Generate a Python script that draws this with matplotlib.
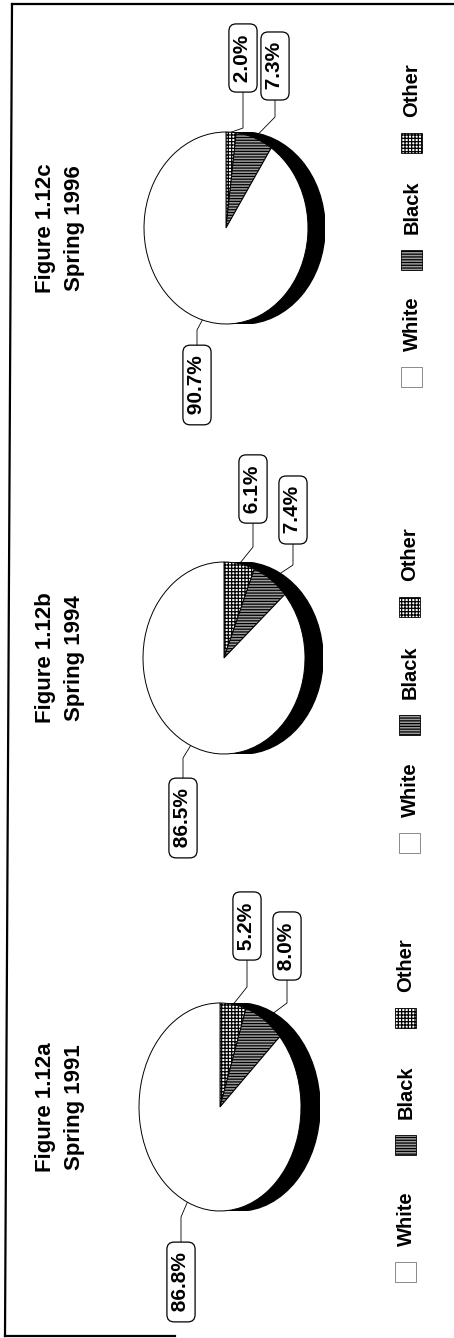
import matplotlib.pyplot as plt
from matplotlib.patches import Ellipse, Rectangle
import numpy as np

plt.rcParams["font.family"] = ["Liberation Sans", "DejaVu Sans"]
plt.rcParams["font.weight"] = "bold"
plt.rcParams["hatch.linewidth"] = 0.9

# race shares per survey (percent)
categories = ["Other", "Black", "White"]
figure_names = ["Figure 1.12a", "Figure 1.12b", "Figure 1.12c"]
seasons = ["Spring 1991", "Spring 1994", "Spring 1996"]
other = [5.2, 6.1, 2.0]
black = [8.0, 7.4, 7.3]
white = [86.8, 86.5, 90.7]

W, H = 454, 1338
fills = {"Other": ("white", "+++++"), "Black": ("#9c9c9c", "------"), "White": ("white", None)}

# panel layout in pixels (page is turned on its side)
cx = [220, 224, 226]
cy = [1107, 658, 228]
rx = [81, 81, 82]
ry = [104, 96, 96]
depth = [19, 18, 17]
box_pos = [
    {"Other": (247, 926), "Black": (287, 946), "White": (181, 1282)},
    {"Other": (253, 489), "Black": (293, 510), "White": (183, 818)},
    {"Other": (243, 58), "Black": (275, 66), "White": (197, 385)},
]
elbow_y = [
    {"Other": 987, "Black": 1003, "White": 1217},
    {"Other": 547, "Black": 565, "White": 758},
    {"Other": 128, "Black": 117, "White": 330},
]
legend_x = [406, 410, 412]
legend_white_y = [1272, 843, 377]
legend_step = [127, 118, 117]

fig = plt.figure(figsize=(W / 100, H / 100), dpi=100)
page = fig.add_axes([0, 0, 1, 1])
page.set_xlim(0, W)
page.set_ylim(H, 0)
page.axis("off")

# frame
page.plot([12, 5], [4, 1336], color="black", lw=1.6)
page.plot([12, W], [4, 4], color="black", lw=1.6)
page.plot([5, 175], [1336, 1336], color="black", lw=1.6)

for i in range(3):
    values = [other[i], black[i], white[i]]

    # titles
    page.text(60, cy[i], figure_names[i] + "\n" + seasons[i], rotation=90,
              ha="center", va="center", fontsize=16, linespacing=1.45)

    # pie with a dark rim to give it some depth
    d = depth[i] / rx[i]
    ax = fig.add_axes([(cx[i] - rx[i]) / W, (H - cy[i] - ry[i]) / H,
                       (2 * rx[i] + depth[i]) / W, 2 * ry[i] / H])
    wedges, _ = ax.pie(values, startangle=90, counterclock=False, radius=1,
                       wedgeprops=dict(edgecolor="black", linewidth=0.7))
    for w, cat in zip(wedges, categories):
        fc, hatch = fills[cat]
        w.set_facecolor(fc)
        if hatch:
            w.set_hatch(hatch)
    ax.add_patch(Ellipse((d, 0), 2, 2, color="black", zorder=0))
    ax.add_patch(Rectangle((0, -1), d, 2, color="black", zorder=0))
    ax.set_aspect("auto")
    ax.set_xlim(-1, 1 + d)
    ax.set_ylim(-1, 1)
    ax.axis("off")

    # value labels with leader lines
    start = 0.0
    for cat, v in zip(categories, values):
        mid = np.radians((start + v / 2) / 100 * 360)
        start += v
        px = cx[i] + rx[i] * np.sin(mid)
        py = cy[i] - ry[i] * np.cos(mid)
        bx, by = box_pos[i][cat]
        page.plot([bx, bx, px], [by, elbow_y[i][cat], py], color="black", lw=0.6)
        page.text(bx, by, f" {v:.1f}% ", rotation=90, ha="center", va="center",
                  fontsize=15, zorder=5,
                  bbox=dict(boxstyle="round,pad=0.22,rounding_size=0.35",
                            fc="white", ec="black", lw=0.9))

    # legend
    for k, cat in enumerate(["White", "Black", "Other"]):
        ly = legend_white_y[i] - k * legend_step[i]
        fc, hatch = fills[cat]
        page.add_patch(Rectangle((legend_x[i] - 11, ly - 10), 21, 20, facecolor=fc,
                                 edgecolor="black" if cat != "White" else "#777777",
                                 hatch=hatch, lw=0.6))
        page.text(legend_x[i], ly - 53, cat, rotation=90, ha="center", va="center",
                  fontsize=14.5)

fig.savefig("out.png", dpi=100)
